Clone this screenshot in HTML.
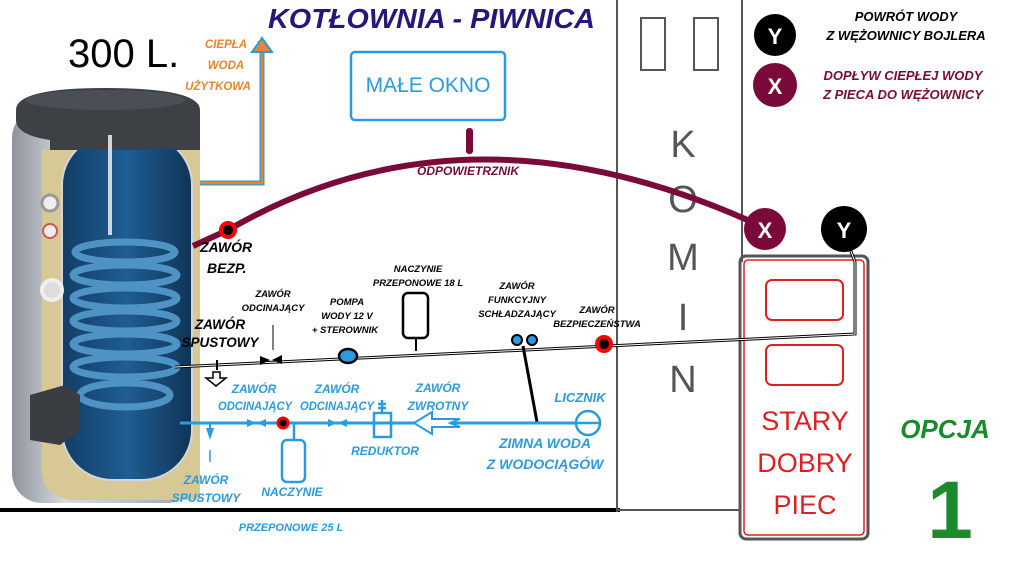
<!DOCTYPE html>
<html><head><meta charset="utf-8"><style>
html,body{margin:0;padding:0;background:#fff;}
svg{display:block;font-family:"Liberation Sans","DejaVu Sans",sans-serif;}
.bi{font-weight:bold;font-style:italic;}
</style></head><body>
<svg width="1024" height="576" viewBox="0 0 1024 576" xmlns="http://www.w3.org/2000/svg">
<defs>
<linearGradient id="gr" x1="0" x2="1"><stop offset="0" stop-color="#8e949c"/><stop offset="0.3" stop-color="#d8dce2"/><stop offset="1" stop-color="#9aa0a8"/></linearGradient>
<linearGradient id="bl" x1="0" x2="1"><stop offset="0" stop-color="#123d66"/><stop offset="0.5" stop-color="#1f5d93"/><stop offset="1" stop-color="#0f3456"/></linearGradient>
</defs>
<!-- title -->
<text x="268" y="28" font-size="28" fill="#24197a" class="bi" textLength="327" lengthAdjust="spacingAndGlyphs">KOTŁOWNIA - PIWNICA</text>
<text x="68" y="67" font-size="40" fill="#000">300 L.</text>
<text x="226" y="48" font-size="11.5" fill="#e9852b" class="bi" text-anchor="middle">CIEPŁA</text>
<text x="226" y="69" font-size="11.5" fill="#e9852b" class="bi" text-anchor="middle">WODA</text>
<text x="218" y="90" font-size="11.5" fill="#e9852b" class="bi" text-anchor="middle">UŻYTKOWA</text>
<!-- hot water pipe -->
<polyline points="182,183 262,183 262,48" fill="none" stroke="#2b9be0" stroke-width="5"/>
<polyline points="182,183 262,183 262,48" fill="none" stroke="#e9852b" stroke-width="2.5"/>
<polygon points="252,52 262,38 272,52" fill="#e9852b" stroke="#2b9be0" stroke-width="2"/>
<!-- window -->
<rect x="351" y="52" width="154" height="68" rx="4" fill="none" stroke="#2b9be0" stroke-width="2.5"/>
<text x="428" y="92" font-size="21" fill="#2b9be0" text-anchor="middle">MAŁE OKNO</text>
<!-- boiler -->
<rect x="12" y="108" width="185" height="395" rx="30" fill="url(#gr)"/>
<path d="M42 150 L200 150 L200 500 L70 500 Q42 495 42 470 Z" fill="#d7c895"/>
<rect x="62" y="135" width="130" height="345" rx="50" fill="url(#bl)" stroke="#cfd6dc" stroke-width="2"/>
<path d="M16 110 Q16 88 105 88 Q200 88 200 110 L200 150 L50 150 L50 140 Q16 135 16 120Z" fill="#3d4146"/>
<ellipse cx="105" cy="100" rx="80" ry="10" fill="#4a4f55"/>
<rect x="108" y="135" width="4" height="100" fill="#cfd6dc"/>
<g fill="none" stroke="#4e93c4" stroke-width="7">
<ellipse cx="125" cy="252" rx="50" ry="10"/><ellipse cx="125" cy="275" rx="52" ry="10"/>
<ellipse cx="125" cy="298" rx="52" ry="10"/><ellipse cx="125" cy="321" rx="52" ry="10"/>
<ellipse cx="125" cy="344" rx="52" ry="10"/><ellipse cx="125" cy="367" rx="52" ry="10"/>
<ellipse cx="125" cy="395" rx="45" ry="12"/>
</g>
<circle cx="50" cy="203" r="8" fill="#eee" stroke="#999" stroke-width="3"/>
<circle cx="50" cy="231" r="7" fill="#eee" stroke="#c55" stroke-width="2"/>
<circle cx="52" cy="290" r="10" fill="#ddd" stroke="#eee" stroke-width="4"/>
<path d="M30 395 L65 385 L80 395 L80 430 L60 445 L30 440 Z" fill="#3a3d42"/>
<!-- floor -->
<line x1="0" y1="510" x2="620" y2="510" stroke="#000" stroke-width="4"/>
<!-- komin -->
<line x1="617" y1="0" x2="617" y2="512" stroke="#555" stroke-width="2"/>
<line x1="742" y1="0" x2="742" y2="262" stroke="#555" stroke-width="2"/>
<line x1="740" y1="262" x2="740" y2="512" stroke="#555" stroke-width="2"/>
<line x1="617" y1="510" x2="740" y2="510" stroke="#555" stroke-width="2"/>
<rect x="641" y="18" width="24" height="52" fill="none" stroke="#555" stroke-width="2"/>
<rect x="694" y="18" width="24" height="52" fill="none" stroke="#555" stroke-width="2"/>
<g font-size="38" fill="#555" text-anchor="middle">
<text x="683" y="157">K</text><text x="683" y="212">O</text><text x="683" y="270">M</text><text x="683" y="330">I</text><text x="683" y="392">N</text></g>
<!-- purple pipe -->
<path d="M193 246 L228 230 Q470 90 765 228" fill="none" stroke="#7a0a3a" stroke-width="6"/>
<rect x="466" y="128" width="7" height="26" rx="3" fill="#7a0a3a"/>
<text x="468" y="175" font-size="12" fill="#7a0a3a" class="bi" text-anchor="middle">ODPOWIETRZNIK</text>
<circle cx="228" cy="230" r="7" fill="#000" stroke="#f00" stroke-width="4"/>
<text x="200" y="252" font-size="14" class="bi">ZAWÓR</text>
<text x="207" y="273" font-size="14" class="bi">BEZP.</text>
<!-- furnace -->
<rect x="740" y="256" width="128" height="283" rx="6" fill="none" stroke="#555" stroke-width="3"/>
<rect x="744" y="260" width="120" height="275" rx="4" fill="none" stroke="#e02020" stroke-width="1.5"/>
<rect x="766" y="280" width="77" height="40" rx="6" fill="none" stroke="#e02020" stroke-width="2"/>
<rect x="766" y="345" width="77" height="40" rx="6" fill="none" stroke="#e02020" stroke-width="2"/>
<g font-size="27" fill="#e02020" text-anchor="middle">
<text x="805" y="430">STARY</text><text x="805" y="472">DOBRY</text><text x="805" y="514">PIEC</text></g>
<!-- black pipe -->
<polyline points="175,367 855,334 855,262 846,238" fill="none" stroke="#000" stroke-width="3"/>
<polyline points="175,367 855,334 855,262 846,238" fill="none" stroke="#fff" stroke-width="1"/>
<circle cx="765" cy="229" r="21" fill="#7a0a3a"/>
<text x="765" y="238" font-size="22" fill="#fff" font-weight="bold" text-anchor="middle">X</text>
<circle cx="844" cy="229" r="23" fill="#000"/>
<text x="844" y="238" font-size="22" fill="#fff" font-weight="bold" text-anchor="middle">Y</text>
<circle cx="604" cy="344" r="7" fill="#000" stroke="#f00" stroke-width="4"/>
<circle cx="517" cy="340" r="5" fill="#2b9be0" stroke="#000" stroke-width="2"/>
<circle cx="532" cy="340" r="5" fill="#2b9be0" stroke="#000" stroke-width="2"/>
<line x1="523" y1="346" x2="537" y2="422" stroke="#000" stroke-width="3"/>
<ellipse cx="348" cy="356" rx="9" ry="7" fill="#2b9be0" stroke="#000" stroke-width="2.5"/>
<polygon points="260,356 270,360 260,365" fill="#000"/><polygon points="282,355 272,360 282,364" fill="#000"/>
<line x1="273" y1="325" x2="273" y2="350" stroke="#000"/>
<rect x="403" y="293" width="25" height="45" rx="5" fill="none" stroke="#000" stroke-width="2.5"/>
<line x1="416" y1="338" x2="416" y2="351" stroke="#000" stroke-width="2"/>
<polygon points="213,372 220,372 220,378 226,378 216,386 206,378 213,378" fill="#fff" stroke="#000" stroke-width="1.5"/>
<line x1="217" y1="360" x2="217" y2="370" stroke="#000" stroke-width="2"/>
<g font-size="9.5" class="bi" text-anchor="middle">
<text x="273" y="297">ZAWÓR</text><text x="273" y="311">ODCINAJĄCY</text>
<text x="347" y="305">POMPA</text><text x="347" y="319">WODY 12 V</text><text x="345" y="333">+ STEROWNIK</text>
<text x="418" y="272">NACZYNIE</text><text x="418" y="286">PRZEPONOWE 18 L</text>
<text x="517" y="289">ZAWÓR</text><text x="517" y="303">FUNKCYJNY</text><text x="517" y="317">SCHŁADZAJĄCY</text>
<text x="597" y="313">ZAWÓR</text><text x="597" y="327">BEZPIECZEŃSTWA</text>
</g>
<text x="220" y="329" font-size="13.5" class="bi" text-anchor="middle">ZAWÓR</text>
<text x="220" y="347" font-size="13.5" class="bi" text-anchor="middle">SPUSTOWY</text>
<!-- blue pipe -->
<line x1="180" y1="423" x2="578" y2="423" stroke="#2b9be0" stroke-width="3"/>
<circle cx="588" cy="423" r="12" fill="#fff" stroke="#2b9be0" stroke-width="2.5"/>
<line x1="577" y1="423" x2="599" y2="423" stroke="#2b9be0" stroke-width="2.5"/>
<g fill="#2b9be0">
<polygon points="247,419 256,423 247,427"/><polygon points="266,419 257,423 266,427"/>
<polygon points="328,419 337,423 328,427"/><polygon points="347,419 338,423 347,427"/>
<polygon points="206,428 214,428 210,440"/>
</g>
<line x1="210" y1="423" x2="210" y2="432" stroke="#2b9be0" stroke-width="2"/>
<line x1="210" y1="450" x2="210" y2="462" stroke="#2b9be0" stroke-width="1.5"/>
<circle cx="283" cy="423" r="5" fill="#000" stroke="#f00" stroke-width="3"/>
<line x1="294" y1="423" x2="294" y2="440" stroke="#2b9be0" stroke-width="2.5"/>
<rect x="282" y="440" width="23" height="42" rx="5" fill="none" stroke="#2b9be0" stroke-width="2.5"/>
<rect x="374" y="413" width="17" height="24" fill="none" stroke="#2b9be0" stroke-width="2.5"/>
<path d="M382 413 L382 400 M378 404 L386 404 M378 408 L386 408" stroke="#2b9be0" stroke-width="2.5"/>
<path d="M414 423 L432 412 L432 419 L460 419 L450 423 L460 427 L432 427 L432 434 Z" fill="#fff" stroke="#2b9be0" stroke-width="2"/>
<g font-size="12" fill="#2b9be0" class="bi" text-anchor="middle">
<text x="254" y="393">ZAWÓR</text><text x="255" y="410" textLength="74" lengthAdjust="spacingAndGlyphs">ODCINAJĄCY</text>
<text x="337" y="393">ZAWÓR</text><text x="337" y="410" textLength="74" lengthAdjust="spacingAndGlyphs">ODCINAJĄCY</text>
<text x="438" y="392">ZAWÓR</text><text x="438" y="410">ZWROTNY</text>
<text x="580" y="402" font-size="13">LICZNIK</text>
<text x="385" y="455">REDUKTOR</text>
<text x="206" y="484">ZAWÓR</text><text x="206" y="502">SPUSTOWY</text>
<text x="292" y="496">NACZYNIE</text>
<text x="291" y="531" font-size="11">PRZEPONOWE 25 L</text>
<text x="545" y="448" font-size="14">ZIMNA WODA</text>
<text x="545" y="469" font-size="14">Z WODOCIĄGÓW</text>
</g>
<!-- legend -->
<circle cx="775" cy="35" r="21" fill="#000"/>
<text x="775" y="44" font-size="22" fill="#fff" font-weight="bold" text-anchor="middle">Y</text>
<circle cx="775" cy="85" r="22" fill="#7a0a3a"/>
<text x="775" y="94" font-size="22" fill="#fff" font-weight="bold" text-anchor="middle">X</text>
<g font-size="13" class="bi" text-anchor="middle">
<text x="906" y="21">POWRÓT WODY</text><text x="906" y="40">Z WĘŻOWNICY BOJLERA</text>
<text x="903" y="80" fill="#7a0a3a">DOPŁYW CIEPŁEJ WODY</text><text x="903" y="99" fill="#7a0a3a">Z PIECA DO WĘŻOWNICY</text>
</g>
<text x="945" y="438" font-size="26" fill="#1a8a2a" class="bi" text-anchor="middle">OPCJA</text>
<text x="950" y="538" font-size="82" fill="#1a8a2a" font-weight="bold" text-anchor="middle">1</text>
</svg>
</body></html>
